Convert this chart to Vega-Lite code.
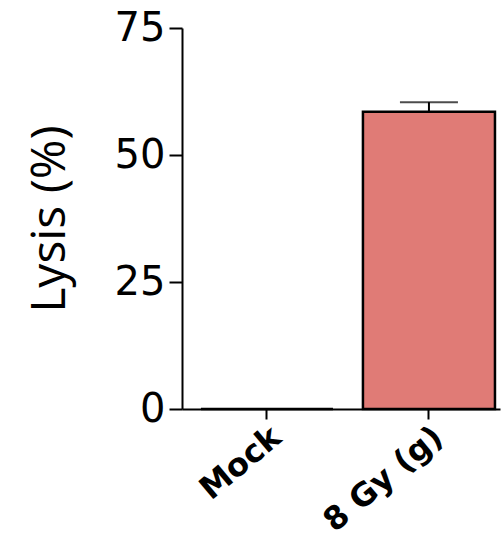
{
  "$schema": "https://vega.github.io/schema/vega-lite/v6.json",
  "width": 318,
  "height": 381,
  "autosize": {"type": "none"},
  "padding": {"left": 182, "top": 28, "right": 1, "bottom": 138},
  "background": "white",
  "config": {
    "view": {"stroke": null},
    "axis": {
      "domainColor": "black",
      "domainWidth": 2,
      "tickColor": "black",
      "tickWidth": 2,
      "labelColor": "black",
      "titleColor": "black",
      "grid": false
    },
    "axisX": {
      "labelFont": "DejaVu Sans",
      "labelFontWeight": "bold",
      "labelFontSize": 32,
      "labelAngle": -40,
      "tickSize": 10,
      "labelPadding": 2,
      "title": null
    }
  },
  "data": {
    "values": [
      {"group": "Mock", "lysis": 0, "upper": 0},
      {"group": "8 Gy (g)", "lysis": 58.5, "upper": 60.4}
    ]
  },
  "encoding": {
    "x": {
      "field": "group",
      "type": "nominal",
      "sort": ["Mock", "8 Gy (g)"],
      "scale": {"paddingInner": 0.185, "paddingOuter": 0.074, "align": 0.79},
      "title": null
    }
  },
  "layer": [
    {
      "mark": {"type": "rule", "color": "black", "strokeWidth": 2},
      "encoding": {
        "y": {
          "field": "lysis",
          "type": "quantitative",
          "title": "Lysis (%)",
          "scale": {"domain": [0, 75], "nice": false},
          "axis": {
            "values": [0, 25, 50, 75],
            "labelFont": "DejaVu Sans",
            "labelFontSize": 40,
            "tickSize": 13,
            "labelPadding": 4,
            "labelOverlap": false,
            "titleFont": "Open Sans",
            "titleFontSize": 48,
            "titleFontWeight": "normal",
            "titlePadding": 40
          }
        },
        "y2": {"field": "upper"}
      }
    },
    {
      "mark": {"type": "tick", "color": "black", "thickness": 2, "size": 58},
      "encoding": {
        "y": {"field": "upper", "type": "quantitative", "title": "Lysis (%)"}
      }
    },
    {
      "mark": {"type": "bar", "fill": "#E07B76", "stroke": "black", "strokeWidth": 2.5},
      "encoding": {
        "y": {"field": "lysis", "type": "quantitative", "title": "Lysis (%)"}
      }
    }
  ]
}
